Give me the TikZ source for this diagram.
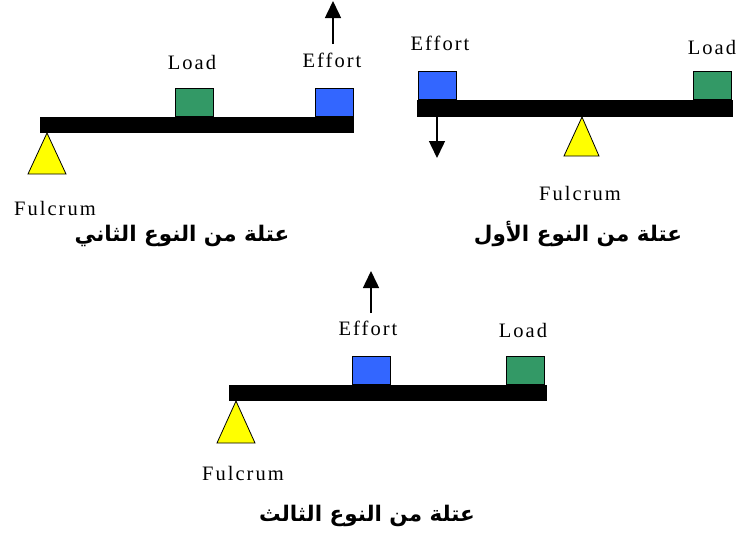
\documentclass[tikz,border=0pt]{standalone}
\usepackage{fontspec}
\setmainfont{Liberation Serif}
\newfontfamily\labelfont[LetterSpace=10]{Liberation Serif}
\newfontfamily\arabicfont[Script=Arabic]{DejaVu Sans}
\TeXXeTstate=1
\usetikzlibrary{arrows.meta}
\definecolor{loadgreen}{RGB}{51,153,102}
\definecolor{effortblue}{RGB}{51,102,255}
\definecolor{fulcrumyellow}{RGB}{255,255,0}
\tikzset{
  lever/.style={fill=black, inner sep=0pt, minimum height=16pt, anchor=north west},
  weight/.style={draw=black, line width=0.8pt, inner sep=0pt, minimum width=38pt, minimum height=28pt, anchor=south west},
  loadbox/.style={weight, fill=loadgreen},
  effortbox/.style={weight, fill=effortblue},
  pivot/.style={draw=black, line width=0.8pt, fill=fulcrumyellow},
  tag/.style={font=\labelfont\fontsize{20.5}{22}\selectfont, inner sep=0pt},
  caption/.style={font=\arabicfont\bfseries\fontsize{21.5}{24}\selectfont, inner sep=0pt},
  force/.style={line width=1.5pt, -{Triangle[width=16pt,length=17pt]}},
}
\begin{document}
\begin{tikzpicture}[x=1pt,y=-1pt]
\useasboundingbox (0,0) rectangle (739,533);

% ---- second class lever ----
\node[lever, minimum width=314pt] (beamA) at (40,117) {};
\node[loadbox] (loadA) at (175,117) {};
\node[effortbox] (effA) at (315,117) {};
\coordinate (pA) at (47,133);
\draw[pivot] (pA) -- (66,174) -- (28,174) -- cycle;
\coordinate (tailA) at (333,44);
\coordinate (headA) at (333,1);
\draw[force] (tailA) -- (headA);
\node[tag] (loadAtxt) at (192,62) {Load};
\node[tag] (effAtxt) at (332,60) {Effort};
\node[tag] (fulAtxt) at (55,208) {Fulcrum};
\node[caption] (capA) at (182,236) {\beginR عتلة من النوع الثاني\endR};

% ---- first class lever ----
\node[lever, minimum width=316pt, minimum height=17pt] (beamB) at (417,100) {};
\node[effortbox] (effB) at (418,100) {};
\node[loadbox] (loadB) at (693,100) {};
\coordinate (pB) at (582,117);
\draw[pivot] (pB) -- (599,156) -- (564,156) -- cycle;
\coordinate (tailB) at (437,117);
\coordinate (headB) at (437,158);
\draw[force] (tailB) -- (headB);
\node[tag] (effBtxt) at (440,43) {Effort};
\node[tag] (loadBtxt) at (712,47) {Load};
\node[tag] (fulBtxt) at (580,193) {Fulcrum};
\node[caption] (capB) at (578,234) {\beginR عتلة من النوع الأول\endR};

% ---- third class lever ----
\node[lever, minimum width=318pt] (beamC) at (229,385) {};
\node[effortbox] (effC) at (352,385) {};
\node[loadbox] (loadC) at (506,385) {};
\coordinate (pC) at (236,401);
\draw[pivot] (pC) -- (255,443) -- (217,443) -- cycle;
\coordinate (tailC) at (371,313);
\coordinate (headC) at (371,271);
\draw[force] (tailC) -- (headC);
\node[tag] (effCtxt) at (368,328) {Effort};
\node[tag] (loadCtxt) at (523,330) {Load};
\node[tag] (fulCtxt) at (243,473) {Fulcrum};
\node[caption] (capC) at (367,516) {\beginR عتلة من النوع الثالث\endR};
\end{tikzpicture}
\end{document}
